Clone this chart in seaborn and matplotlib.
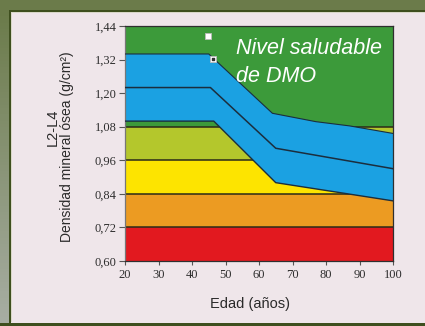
import numpy as np
import pandas as pd
import matplotlib
matplotlib.use("Agg")
import matplotlib.pyplot as plt
from matplotlib.patches import Rectangle
from matplotlib.colors import LinearSegmentedColormap
import seaborn as sns

# horizontal zones of bone mineral density (g/cm2), bottom to top
band_edges = [0.60, 0.72, 0.84, 0.96, 1.08, 1.44]
band_colors = ["#e2191f", "#ec9b22", "#fde400", "#b4c72c", "#3c9a3a"]
ref_lines = [0.72, 0.84, 0.96, 1.08]

# blue reference band against age
upper_age = [20, 45, 64, 77, 87, 100]
upper_dmo = [1.34, 1.34, 1.128, 1.098, 1.083, 1.056]
mid_age = [20, 45.5, 65, 100]
mid_dmo = [1.22, 1.22, 1.003, 0.93]
lower_age = [20, 46.5, 65, 100]
lower_dmo = [1.10, 1.10, 0.88, 0.815]

# two small square markers
marker_age = [44.9, 46.4]
marker_dmo = [1.405, 1.322]

x_ticks = [20, 30, 40, 50, 60, 70, 80, 90, 100]
y_ticks = [0.60, 0.72, 0.84, 0.96, 1.08, 1.20, 1.32, 1.44]
y_ticklabels = ["0,60", "0,72", "0,84", "0,96", "1,08", "1,20", "1,32", "1,44"]

sns.set_style("white")
W, H = 425, 326
fig = plt.figure(figsize=(W / 100, H / 100), dpi=100)
fig.patch.set_facecolor("#efe6ea")

# frame around the panel
bg = fig.add_axes([0, 0, 1, 1], zorder=-5)
bg.axis("off")
olive = "#6b7b4a"
dark = "#3e4f1e"
bg.add_patch(Rectangle((0, 0), W, 10, color=olive, lw=0))
grad = LinearSegmentedColormap.from_list("g", [olive, "#a8aea4"])
bg.imshow(np.linspace(0, 1, 100).reshape(-1, 1), cmap=grad, aspect="auto",
          extent=[0, 9, H, 10])
bg.add_patch(Rectangle((9, 10), W - 9, 2.2, color=dark, lw=0))
bg.add_patch(Rectangle((9, 10), 2.2, H - 10, color=dark, lw=0))
bg.add_patch(Rectangle((0, 323), W, 3, color=dark, lw=0))
bg.add_patch(Rectangle((11.2, 12.2), W, 0.8, color="#d9d8c8", lw=0))
bg.add_patch(Rectangle((11.2, 12.2), 0.8, 310, color="#d9d8c8", lw=0))
bg.set_xlim(0, W)
bg.set_ylim(H, 0)

ax = fig.add_axes([125 / W, 1 - 261 / H, 268 / W, 235 / H])

for lo, hi, c in zip(band_edges[:-1], band_edges[1:], band_colors):
    ax.axhspan(lo, hi, color=c, lw=0, zorder=0)
for y in ref_lines:
    ax.axhline(y, color="#2a2a18", lw=1.1, zorder=1)

poly_x = upper_age + lower_age[::-1]
poly_y = upper_dmo + lower_dmo[::-1]
ax.fill(poly_x, poly_y, color="#1ba1e2", lw=0, zorder=2)

line_color = "#1b2e3e"
for xs, ys, lw in [(upper_age, upper_dmo, 0.8), (mid_age, mid_dmo, 1.1), (lower_age, lower_dmo, 1.0)]:
    sns.lineplot(x=xs, y=ys, ax=ax, color=line_color, lw=lw, zorder=3, sort=False)

ax.scatter(marker_age, marker_dmo, marker="s", s=18, facecolor="white",
           edgecolor="#bbbbbb", linewidth=0.6, zorder=4)
ax.scatter(marker_age[1:], marker_dmo[1:], marker="s", s=3, color="#333333", zorder=5)

for txt, yb in [("Nivel saludable", 1.34), ("de DMO", 1.24)]:
    ax.text(53.2, yb, txt, color="white", fontsize=15.5, style="italic",
            family="Liberation Sans", ha="left", va="baseline", zorder=6)

ax.set_xlim(20, 100)
ax.set_ylim(0.60, 1.44)
ax.set_xticks(x_ticks)
ax.set_xticklabels([str(v) for v in x_ticks])
ax.set_yticks(y_ticks)
ax.set_yticklabels(y_ticklabels)
for lab in ax.get_xticklabels() + ax.get_yticklabels():
    lab.set_family("Liberation Serif")
    lab.set_fontsize(9)
    lab.set_color("#2e2e2e")
ax.tick_params(axis="y", direction="out", length=4, width=0.8, color="#555555", pad=2)
ax.tick_params(axis="x", direction="out", length=3, width=0.8, color="#555555", pad=3)
ax.tick_params(left=True, bottom=True)
for side, sp in ax.spines.items():
    sp.set_visible(True)
    sp.set_linewidth(0.9)
    sp.set_color("#2f2f2f")
ax.spines["left"].set_color("#777777")

ax.set_xlabel("")
ax.set_ylabel("")
fig.text(250 / W, 1 - 304 / H, "Edad (años)", ha="center", va="center",
         fontsize=10.5, family="Liberation Sans", color="#2a2a2a")
fig.text(53 / W, 1 - 127 / H, "L2-L4", ha="center", va="center", rotation=90,
         fontsize=10.5, family="Liberation Sans", color="#2a2a2a")
fig.text(67 / W, 1 - 147 / H, "Densidad mineral ósea (g/cm²)", ha="center",
         va="center", rotation=90, fontsize=10, family="Liberation Sans",
         color="#2a2a2a")

fig.savefig("out.png", dpi=100, facecolor=fig.get_facecolor())
